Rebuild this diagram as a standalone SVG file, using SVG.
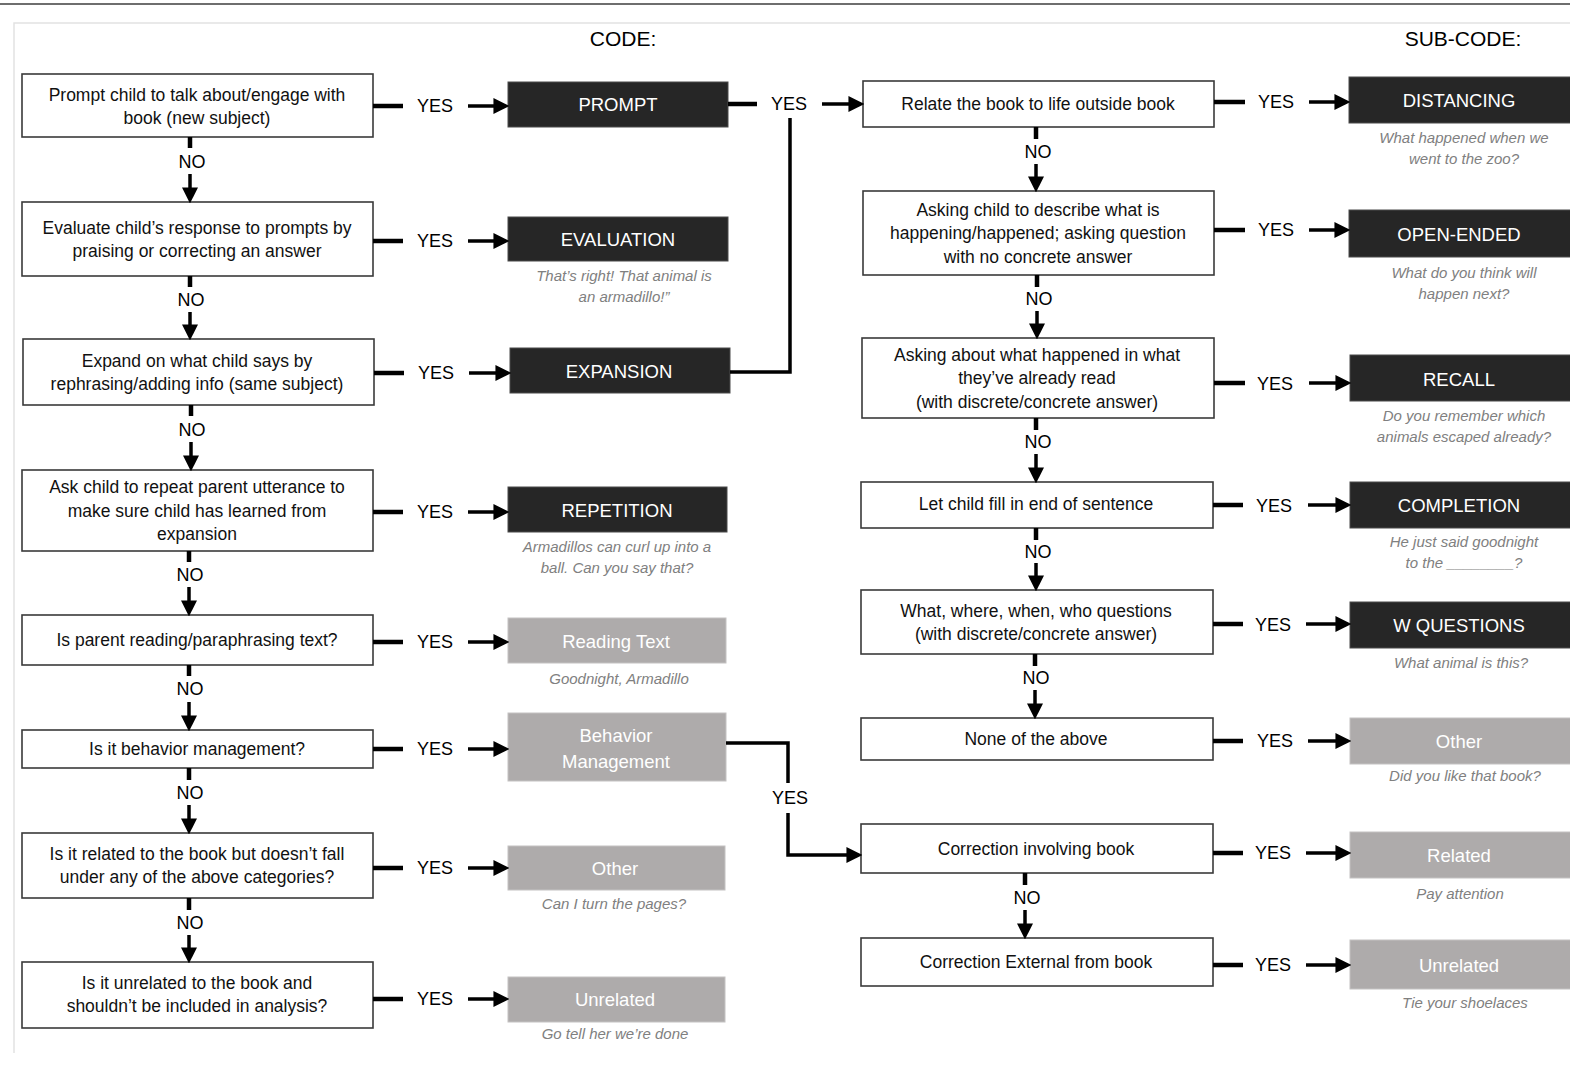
<svg xmlns="http://www.w3.org/2000/svg" width="1570" height="1067" viewBox="0 0 1570 1067">
<defs>
<marker id="ah" markerUnits="userSpaceOnUse" markerWidth="16" markerHeight="16" viewBox="0 0 14 14" refX="4" refY="7" orient="auto">
<path d="M0,0 L14,7 L0,14 z" fill="#000"/>
</marker>
<style>
.q rect{fill:#fff;stroke:#3a3a3a;stroke-width:1.6}
.dk rect{fill:#262626;stroke:#4a4a4a;stroke-width:1}
.gy rect{fill:#aeabab;stroke:#c4c2c2;stroke-width:1}
text{font-family:"Liberation Sans",Arial,sans-serif;text-anchor:middle;dominant-baseline:central}
.q text{font-size:17.5px;fill:#111}
.dk text,.gy text{font-size:18.5px;fill:#fff}
.ex{font-size:15px;font-style:italic;fill:#808080}
.yn{font-size:18px;fill:#000}
.hd{font-size:21px;fill:#000}
.stub{stroke:#000;stroke-width:4.5;fill:none}
.ar{stroke:#000;stroke-width:3.5;fill:none;marker-end:url(#ah)}
.ln{stroke:#000;stroke-width:3.5;fill:none}
</style>
</defs>
<rect x="0" y="0" width="1570" height="1067" fill="#fff"/>
<line x1="0" y1="4" x2="1570" y2="4" stroke="#6e6e6e" stroke-width="2"/>
<path d="M14,1053 V23 H1570" fill="none" stroke="#e2e2e2" stroke-width="1.5"/>
<text class="hd" x="623" y="38">CODE:</text>
<text class="hd" x="1463" y="38">SUB-CODE:</text>

<!-- Left question nodes -->
<g id="q1" class="q"><rect x="22" y="74" width="351" height="63"/><text x="197" y="95">Prompt child to talk about/engage with</text><text x="197" y="118">book (new subject)</text></g>
<g id="q2" class="q"><rect x="22" y="202" width="351" height="74"/><text x="197" y="228">Evaluate child’s response to prompts by</text><text x="197" y="251">praising or correcting an answer</text></g>
<g id="q3" class="q"><rect x="23" y="339" width="351" height="66"/><text x="197" y="361">Expand on what child says by</text><text x="197" y="384">rephrasing/adding info (same subject)</text></g>
<g id="q4" class="q"><rect x="22" y="470" width="351" height="81"/><text x="197" y="487">Ask child to repeat parent utterance to</text><text x="197" y="511">make sure child has learned from</text><text x="197" y="534">expansion</text></g>
<g id="q5" class="q"><rect x="22" y="615" width="351" height="50"/><text x="197" y="640">Is parent reading/paraphrasing text?</text></g>
<g id="q6" class="q"><rect x="22" y="730" width="351" height="38"/><text x="197" y="749">Is it behavior management?</text></g>
<g id="q7" class="q"><rect x="22" y="833" width="351" height="65"/><text x="197" y="854">Is it related to the book but doesn’t fall</text><text x="197" y="877">under any of the above categories?</text></g>
<g id="q8" class="q"><rect x="22" y="962" width="351" height="66"/><text x="197" y="983">Is it unrelated to the book and</text><text x="197" y="1006">shouldn’t be included in analysis?</text></g>

<!-- Code boxes -->
<g id="c-prompt" class="dk"><rect x="508" y="82" width="220" height="45"/><text x="618" y="104">PROMPT</text></g>
<g id="c-eval" class="dk"><rect x="508" y="217" width="220" height="44"/><text x="618" y="239">EVALUATION</text></g>
<text class="ex" x="624" y="275">That’s right! That animal is</text>
<text class="ex" x="624" y="296">an armadillo!”</text>
<g id="c-exp" class="dk"><rect x="510" y="348" width="220" height="45"/><text x="619" y="371">EXPANSION</text></g>
<g id="c-rep" class="dk"><rect x="508" y="487" width="219" height="45"/><text x="617" y="510">REPETITION</text></g>
<text class="ex" x="617" y="546">Armadillos can curl up into a</text>
<text class="ex" x="617" y="567">ball. Can you say that?</text>
<g id="c-read" class="gy"><rect x="508" y="618" width="218" height="45"/><text x="616" y="641">Reading Text</text></g>
<text class="ex" x="619" y="678">Goodnight, Armadillo</text>
<g id="c-beh" class="gy"><rect x="508" y="713" width="218" height="68"/><text x="616" y="735">Behavior</text><text x="616" y="761">Management</text></g>
<g id="c-other" class="gy"><rect x="508" y="846" width="217" height="44"/><text x="615" y="868">Other</text></g>
<text class="ex" x="614" y="903">Can I turn the pages?</text>
<g id="c-unrel" class="gy"><rect x="508" y="977" width="217" height="45"/><text x="615" y="999">Unrelated</text></g>
<text class="ex" x="615" y="1033">Go tell her we’re done</text>

<!-- Right question nodes -->
<g id="r1" class="q"><rect x="863" y="81" width="351" height="46"/><text x="1038" y="104">Relate the book to life outside book</text></g>
<g id="r2" class="q"><rect x="863" y="191" width="351" height="84"/><text x="1038" y="210">Asking child to describe what is</text><text x="1038" y="233">happening/happened; asking question</text><text x="1038" y="257">with no concrete answer</text></g>
<g id="r3" class="q"><rect x="862" y="338" width="352" height="80"/><text x="1037" y="355">Asking about what happened in what</text><text x="1037" y="378">they’ve already read</text><text x="1037" y="402">(with discrete/concrete answer)</text></g>
<g id="r4" class="q"><rect x="861" y="482" width="352" height="46"/><text x="1036" y="504">Let child fill in end of sentence</text></g>
<g id="r5" class="q"><rect x="861" y="590" width="352" height="64"/><text x="1036" y="611">What, where, when, who questions</text><text x="1036" y="634">(with discrete/concrete answer)</text></g>
<g id="r6" class="q"><rect x="861" y="718" width="352" height="42"/><text x="1036" y="739">None of the above</text></g>
<g id="r7" class="q"><rect x="861" y="824" width="352" height="49"/><text x="1036" y="849">Correction involving book</text></g>
<g id="r8" class="q"><rect x="861" y="938" width="352" height="48"/><text x="1036" y="962">Correction External from book</text></g>

<!-- Sub-code boxes -->
<g id="s-dist" class="dk"><rect x="1349" y="77" width="222" height="46"/><text x="1459" y="100">DISTANCING</text></g>
<text class="ex" x="1464" y="137">What happened when we</text>
<text class="ex" x="1464" y="158">went to the zoo?</text>
<g id="s-open" class="dk"><rect x="1349" y="210" width="222" height="47"/><text x="1459" y="234">OPEN-ENDED</text></g>
<text class="ex" x="1464" y="272">What do you think will</text>
<text class="ex" x="1464" y="293">happen next?</text>
<g id="s-recall" class="dk"><rect x="1350" y="355" width="221" height="46"/><text x="1459" y="379">RECALL</text></g>
<text class="ex" x="1464" y="415">Do you remember which</text>
<text class="ex" x="1464" y="436">animals escaped already?</text>
<g id="s-compl" class="dk"><rect x="1350" y="482" width="221" height="46"/><text x="1459" y="505">COMPLETION</text></g>
<text class="ex" x="1464" y="541">He just said goodnight</text>
<text class="ex" x="1464" y="562">to the ________?</text>
<g id="s-wq" class="dk"><rect x="1350" y="602" width="221" height="46"/><text x="1459" y="625">W QUESTIONS</text></g>
<text class="ex" x="1461" y="662">What animal is this?</text>
<g id="s-other" class="gy"><rect x="1350" y="718" width="221" height="46"/><text x="1459" y="741">Other</text></g>
<text class="ex" x="1465" y="775">Did you like that book?</text>
<g id="s-related" class="gy"><rect x="1350" y="832" width="221" height="46"/><text x="1459" y="855">Related</text></g>
<text class="ex" x="1460" y="893">Pay attention</text>
<g id="s-unrel" class="gy"><rect x="1350" y="940" width="221" height="49"/><text x="1459" y="965">Unrelated</text></g>
<text class="ex" x="1465" y="1002">Tie your shoelaces</text>

<!-- Connectors -->
<g id="connectors">
<g>
<line class="stub" x1="373" y1="106" x2="403" y2="106"/><text class="yn" x="435" y="106">YES</text><line class="ar" x1="468" y1="106" x2="498" y2="106"/>
<line class="stub" x1="373" y1="241" x2="403" y2="241"/><text class="yn" x="435" y="241">YES</text><line class="ar" x1="468" y1="241" x2="498" y2="241"/>
<line class="stub" x1="374" y1="373" x2="404" y2="373"/><text class="yn" x="436" y="373">YES</text><line class="ar" x1="469" y1="373" x2="500" y2="373"/>
<line class="stub" x1="373" y1="512" x2="403" y2="512"/><text class="yn" x="435" y="512">YES</text><line class="ar" x1="468" y1="512" x2="498" y2="512"/>
<line class="stub" x1="373" y1="642" x2="403" y2="642"/><text class="yn" x="435" y="642">YES</text><line class="ar" x1="468" y1="642" x2="498" y2="642"/>
<line class="stub" x1="373" y1="749" x2="403" y2="749"/><text class="yn" x="435" y="749">YES</text><line class="ar" x1="468" y1="749" x2="498" y2="749"/>
<line class="stub" x1="373" y1="868" x2="403" y2="868"/><text class="yn" x="435" y="868">YES</text><line class="ar" x1="468" y1="868" x2="498" y2="868"/>
<line class="stub" x1="373" y1="999" x2="403" y2="999"/><text class="yn" x="435" y="999">YES</text><line class="ar" x1="468" y1="999" x2="498" y2="999"/>
</g>
<g>
<line class="stub" x1="190" y1="137" x2="190" y2="148"/><text class="yn" x="192" y="162">NO</text><line class="ar" x1="190" y1="174" x2="190" y2="192"/>
<line class="stub" x1="190" y1="276" x2="190" y2="287"/><text class="yn" x="191" y="300">NO</text><line class="ar" x1="190" y1="312" x2="190" y2="329"/>
<line class="stub" x1="191" y1="405" x2="191" y2="416"/><text class="yn" x="192" y="430">NO</text><line class="ar" x1="191" y1="442" x2="191" y2="460"/>
<line class="stub" x1="189" y1="551" x2="189" y2="562"/><text class="yn" x="190" y="575">NO</text><line class="ar" x1="189" y1="587" x2="189" y2="605"/>
<line class="stub" x1="189" y1="665" x2="189" y2="676"/><text class="yn" x="190" y="689">NO</text><line class="ar" x1="189" y1="702" x2="189" y2="720"/>
<line class="stub" x1="189" y1="768" x2="189" y2="780"/><text class="yn" x="190" y="793">NO</text><line class="ar" x1="189" y1="805" x2="189" y2="823"/>
<line class="stub" x1="189" y1="898" x2="189" y2="910"/><text class="yn" x="190" y="923">NO</text><line class="ar" x1="189" y1="935" x2="189" y2="952"/>
</g>
<g>
<line class="stub" x1="728" y1="104" x2="757" y2="104"/><text class="yn" x="789" y="104">YES</text><line class="ar" x1="822" y1="104" x2="853" y2="104"/>
<path class="ln" d="M790,118 V372 H730"/>
</g>
<g>
<path class="ln" d="M726,743 H788 V783"/><text class="yn" x="790" y="798">YES</text><path class="ar" d="M788,813 V855 H851"/>
</g>
<g>
<line class="stub" x1="1214" y1="102" x2="1245" y2="102"/><text class="yn" x="1276" y="102">YES</text><line class="ar" x1="1309" y1="102" x2="1339" y2="102"/>
<line class="stub" x1="1214" y1="230" x2="1245" y2="230"/><text class="yn" x="1276" y="230">YES</text><line class="ar" x1="1309" y1="230" x2="1339" y2="230"/>
<line class="stub" x1="1214" y1="383" x2="1245" y2="383"/><text class="yn" x="1275" y="384">YES</text><line class="ar" x1="1309" y1="383" x2="1340" y2="383"/>
<line class="stub" x1="1213" y1="505" x2="1243" y2="505"/><text class="yn" x="1274" y="506">YES</text><line class="ar" x1="1308" y1="505" x2="1340" y2="505"/>
<line class="stub" x1="1213" y1="624" x2="1243" y2="624"/><text class="yn" x="1273" y="625">YES</text><line class="ar" x1="1306" y1="624" x2="1340" y2="624"/>
<line class="stub" x1="1213" y1="741" x2="1243" y2="741"/><text class="yn" x="1275" y="741">YES</text><line class="ar" x1="1308" y1="741" x2="1340" y2="741"/>
<line class="stub" x1="1213" y1="853" x2="1243" y2="853"/><text class="yn" x="1273" y="853">YES</text><line class="ar" x1="1306" y1="853" x2="1340" y2="853"/>
<line class="stub" x1="1213" y1="965" x2="1243" y2="965"/><text class="yn" x="1273" y="965">YES</text><line class="ar" x1="1306" y1="965" x2="1340" y2="965"/>
</g>
<g>
<line class="stub" x1="1036" y1="127" x2="1036" y2="139"/><text class="yn" x="1038" y="152">NO</text><line class="ar" x1="1036" y1="164" x2="1036" y2="181"/>
<line class="stub" x1="1037" y1="275" x2="1037" y2="287"/><text class="yn" x="1039" y="299">NO</text><line class="ar" x1="1037" y1="311" x2="1037" y2="328"/>
<line class="stub" x1="1036" y1="418" x2="1036" y2="430"/><text class="yn" x="1038" y="442">NO</text><line class="ar" x1="1036" y1="454" x2="1036" y2="472"/>
<line class="stub" x1="1036" y1="528" x2="1036" y2="540"/><text class="yn" x="1038" y="552">NO</text><line class="ar" x1="1036" y1="563" x2="1036" y2="580"/>
<line class="stub" x1="1035" y1="654" x2="1035" y2="666"/><text class="yn" x="1036" y="678">NO</text><line class="ar" x1="1035" y1="690" x2="1035" y2="708"/>
<line class="stub" x1="1025" y1="873" x2="1025" y2="885"/><text class="yn" x="1027" y="898">NO</text><line class="ar" x1="1025" y1="910" x2="1025" y2="928"/>
</g>
</g>
</svg>
